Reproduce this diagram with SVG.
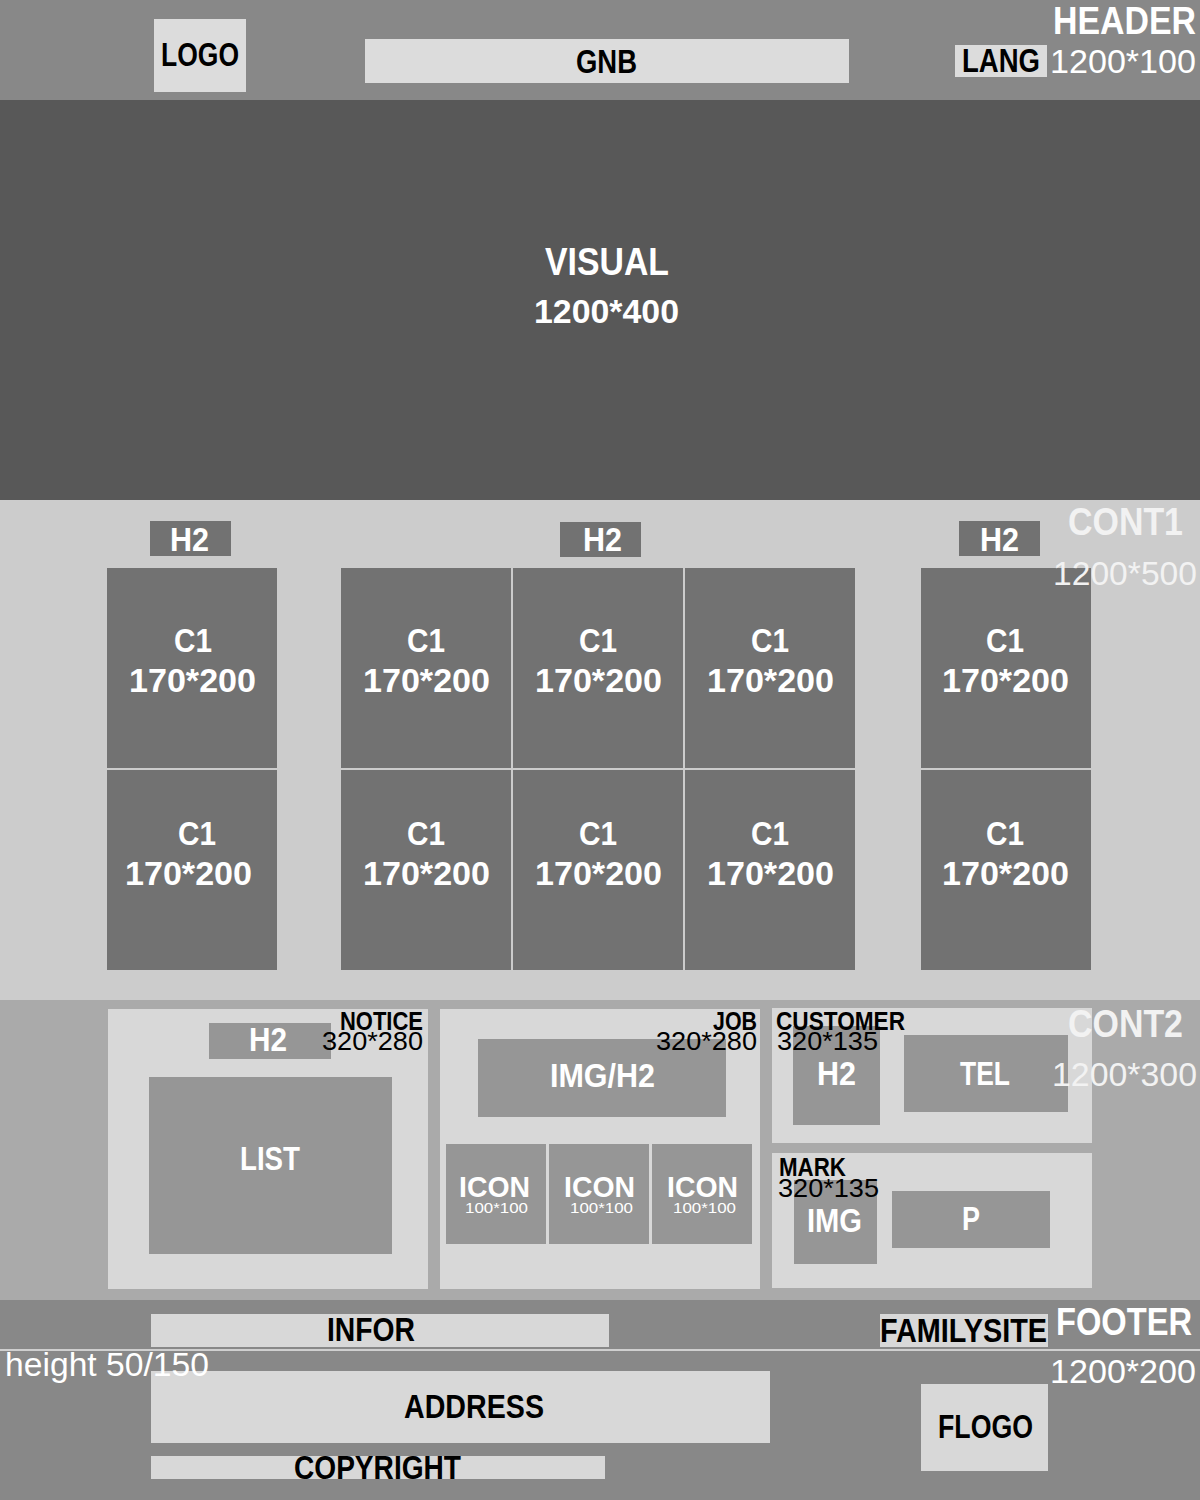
<svg xmlns="http://www.w3.org/2000/svg" width="1200" height="1500" viewBox="0 0 1200 1500">
<style>
text{font-family:"Liberation Sans","DejaVu Sans",sans-serif;font-weight:bold}
.w{fill:#ffffff}
.k{fill:#000000}
.p{fill:#f2f2f2}
.n{font-weight:normal}
.lt{fill:#dcdcdc}
.lb{fill:#d8d8d8}
.d{fill:#727272}
.m{fill:#969696}
.t30{font-size:33px}
.t36{font-size:38px}
.t24{font-size:25px}
.ti{font-size:30px}
.t14{font-size:14px}
</style>
<g id="header">
<rect x="0" y="0" width="1200" height="100" fill="#888888"/>
<text class="w t36" x="1053" y="34" textLength="143" lengthAdjust="spacingAndGlyphs">HEADER</text>
<text class="w t30 n" x="1050" y="73" textLength="146" lengthAdjust="spacingAndGlyphs">1200*100</text>
</g>
<g id="logo"><rect class="lt" x="154" y="19" width="92" height="73"/><text class="k t30" x="161" y="66" textLength="78" lengthAdjust="spacingAndGlyphs">LOGO</text></g>
<g id="gnb"><rect class="lt" x="365" y="39" width="484" height="44"/><text class="k t30" x="576" y="73" textLength="61" lengthAdjust="spacingAndGlyphs">GNB</text></g>
<g id="lang"><rect class="lt" x="955" y="45" width="92" height="32"/><text class="k t30" x="962" y="72" textLength="78" lengthAdjust="spacingAndGlyphs">LANG</text></g>

<g id="visual">
<rect x="0" y="100" width="1200" height="400" fill="#585858"/>
<text class="w t36" x="545" y="275" textLength="124" lengthAdjust="spacingAndGlyphs">VISUAL</text>
<text class="w t30" x="534" y="323" textLength="145" lengthAdjust="spacingAndGlyphs">1200*400</text>
</g>

<g id="cont1">
<rect x="0" y="500" width="1200" height="500" fill="#cccccc"/>
</g>
<g id="c1-h2-left"><rect class="d" x="150" y="521" width="81" height="35"/><text class="w t30" x="170" y="551" textLength="39" lengthAdjust="spacingAndGlyphs">H2</text></g>
<g id="c1-h2-mid"><rect class="d" x="560" y="522" width="81" height="35"/><text class="w t30" x="583" y="551" textLength="39" lengthAdjust="spacingAndGlyphs">H2</text></g>
<g id="c1-h2-right"><rect class="d" x="959" y="521" width="81" height="35"/><text class="w t30" x="980" y="551" textLength="39" lengthAdjust="spacingAndGlyphs">H2</text></g>

<g id="c1-1"><rect class="d" x="107" y="568" width="170" height="200"/><text class="w t30" x="174" y="652" textLength="38" lengthAdjust="spacingAndGlyphs">C1</text><text class="w t30" x="129" y="692" textLength="127" lengthAdjust="spacingAndGlyphs">170*200</text></g>
<g id="c1-2"><rect class="d" x="341" y="568" width="170" height="200"/><text class="w t30" x="407" y="652" textLength="38" lengthAdjust="spacingAndGlyphs">C1</text><text class="w t30" x="363" y="692" textLength="127" lengthAdjust="spacingAndGlyphs">170*200</text></g>
<g id="c1-3"><rect class="d" x="513" y="568" width="170" height="200"/><text class="w t30" x="579" y="652" textLength="38" lengthAdjust="spacingAndGlyphs">C1</text><text class="w t30" x="535" y="692" textLength="127" lengthAdjust="spacingAndGlyphs">170*200</text></g>
<g id="c1-4"><rect class="d" x="685" y="568" width="170" height="200"/><text class="w t30" x="751" y="652" textLength="38" lengthAdjust="spacingAndGlyphs">C1</text><text class="w t30" x="707" y="692" textLength="127" lengthAdjust="spacingAndGlyphs">170*200</text></g>
<g id="c1-5"><rect class="d" x="921" y="568" width="170" height="200"/><text class="w t30" x="986" y="652" textLength="38" lengthAdjust="spacingAndGlyphs">C1</text><text class="w t30" x="942" y="692" textLength="127" lengthAdjust="spacingAndGlyphs">170*200</text></g>
<g id="c1-6"><rect class="d" x="107" y="770" width="170" height="200"/><text class="w t30" x="178" y="845" textLength="38" lengthAdjust="spacingAndGlyphs">C1</text><text class="w t30" x="125" y="885" textLength="127" lengthAdjust="spacingAndGlyphs">170*200</text></g>
<g id="c1-7"><rect class="d" x="341" y="770" width="170" height="200"/><text class="w t30" x="407" y="845" textLength="38" lengthAdjust="spacingAndGlyphs">C1</text><text class="w t30" x="363" y="885" textLength="127" lengthAdjust="spacingAndGlyphs">170*200</text></g>
<g id="c1-8"><rect class="d" x="513" y="770" width="170" height="200"/><text class="w t30" x="579" y="845" textLength="38" lengthAdjust="spacingAndGlyphs">C1</text><text class="w t30" x="535" y="885" textLength="127" lengthAdjust="spacingAndGlyphs">170*200</text></g>
<g id="c1-9"><rect class="d" x="685" y="770" width="170" height="200"/><text class="w t30" x="751" y="845" textLength="38" lengthAdjust="spacingAndGlyphs">C1</text><text class="w t30" x="707" y="885" textLength="127" lengthAdjust="spacingAndGlyphs">170*200</text></g>
<g id="c1-10"><rect class="d" x="921" y="770" width="170" height="200"/><text class="w t30" x="986" y="845" textLength="38" lengthAdjust="spacingAndGlyphs">C1</text><text class="w t30" x="942" y="885" textLength="127" lengthAdjust="spacingAndGlyphs">170*200</text></g>
<g id="cont1-label">
<text class="p t36" x="1068" y="535" textLength="115" lengthAdjust="spacingAndGlyphs">CONT1</text>
<text class="p t30 n" x="1053" y="585" textLength="144" lengthAdjust="spacingAndGlyphs">1200*500</text>
</g>

<g id="cont2">
<rect x="0" y="1000" width="1200" height="300" fill="#aaaaaa"/>
</g>
<g id="notice">
<rect class="lb" x="108" y="1009" width="320" height="280"/>
<rect class="m" x="209" y="1023" width="122" height="36"/><text class="w t30" x="249" y="1051" textLength="38" lengthAdjust="spacingAndGlyphs">H2</text>
<rect class="m" x="149" y="1077" width="243" height="177"/><text class="w t30" x="240" y="1170" textLength="60" lengthAdjust="spacingAndGlyphs">LIST</text>
<text class="k t24" x="340" y="1030" textLength="83" lengthAdjust="spacingAndGlyphs">NOTICE</text>
<text class="k t24 n" x="322" y="1050" textLength="101" lengthAdjust="spacingAndGlyphs">320*280</text>
</g>
<g id="job">
<rect class="lb" x="440" y="1009" width="320" height="280"/>
<rect class="m" x="478" y="1039" width="248" height="78"/><text class="w t30" x="550" y="1087" textLength="105" lengthAdjust="spacingAndGlyphs">IMG/H2</text>
<rect class="m" x="446" y="1144" width="100" height="100"/><text class="w ti" x="459" y="1197" textLength="71" lengthAdjust="spacingAndGlyphs">ICON</text><text class="w t14 n" x="465" y="1213" textLength="63" lengthAdjust="spacingAndGlyphs">100*100</text>
<rect class="m" x="549" y="1144" width="100" height="100"/><text class="w ti" x="564" y="1197" textLength="71" lengthAdjust="spacingAndGlyphs">ICON</text><text class="w t14 n" x="570" y="1213" textLength="63" lengthAdjust="spacingAndGlyphs">100*100</text>
<rect class="m" x="652" y="1144" width="100" height="100"/><text class="w ti" x="667" y="1197" textLength="71" lengthAdjust="spacingAndGlyphs">ICON</text><text class="w t14 n" x="673" y="1213" textLength="63" lengthAdjust="spacingAndGlyphs">100*100</text>
<text class="k t24" x="713" y="1030" textLength="44" lengthAdjust="spacingAndGlyphs">JOB</text>
<text class="k t24 n" x="656" y="1050" textLength="101" lengthAdjust="spacingAndGlyphs">320*280</text>
</g>
<g id="customer">
<rect class="lb" x="772" y="1008" width="320" height="135"/>
<rect class="m" x="793" y="1026" width="87" height="99"/><text class="w t30" x="817" y="1085" textLength="39" lengthAdjust="spacingAndGlyphs">H2</text>
<rect class="m" x="904" y="1035" width="164" height="77"/><text class="w t30" x="960" y="1085" textLength="50" lengthAdjust="spacingAndGlyphs">TEL</text>
<text class="k t24" x="776" y="1030" textLength="129" lengthAdjust="spacingAndGlyphs">CUSTOMER</text>
<text class="k t24 n" x="777" y="1050" textLength="101" lengthAdjust="spacingAndGlyphs">320*135</text>
</g>
<g id="mark">
<rect class="lb" x="772" y="1153" width="320" height="135"/>
<rect class="m" x="794" y="1180" width="83" height="84"/><text class="w t30" x="807" y="1232" textLength="55" lengthAdjust="spacingAndGlyphs">IMG</text>
<rect class="m" x="892" y="1191" width="158" height="57"/><text class="w t30" x="962" y="1230" textLength="18" lengthAdjust="spacingAndGlyphs">P</text>
<text class="k t24" x="779" y="1176" textLength="67" lengthAdjust="spacingAndGlyphs">MARK</text>
<text class="k t24 n" x="778" y="1197" textLength="101" lengthAdjust="spacingAndGlyphs">320*135</text>
</g>
<g id="cont2-label">
<text class="p t36" x="1068" y="1037" textLength="115" lengthAdjust="spacingAndGlyphs">CONT2</text>
<text class="p t30 n" x="1052" y="1086" textLength="145" lengthAdjust="spacingAndGlyphs">1200*300</text>
</g>

<g id="footer">
<rect x="0" y="1300" width="1200" height="200" fill="#888888"/>
<rect x="0" y="1349" width="1200" height="2" fill="#cfcfcf"/>
</g>
<g id="infor"><rect class="lb" x="151" y="1314" width="458" height="33"/><text class="k t30" x="327" y="1341" textLength="88" lengthAdjust="spacingAndGlyphs">INFOR</text></g>
<g id="familysite"><rect class="lb" x="880" y="1314" width="168" height="33"/><text class="k t30" x="880" y="1342" textLength="167" lengthAdjust="spacingAndGlyphs">FAMILYSITE</text></g>
<g id="address"><rect class="lb" x="151" y="1371" width="619" height="72"/><text class="k t30" x="404" y="1418" textLength="140" lengthAdjust="spacingAndGlyphs">ADDRESS</text></g>
<g id="copyright"><rect class="lb" x="151" y="1456" width="454" height="23"/><text class="k t30" x="294" y="1479" textLength="167" lengthAdjust="spacingAndGlyphs">COPYRIGHT</text></g>
<g id="flogo"><rect class="lb" x="921" y="1384" width="127" height="87"/><text class="k t30" x="938" y="1438" textLength="95" lengthAdjust="spacingAndGlyphs">FLOGO</text></g>
<g id="footer-label">
<text class="w t36" x="1056" y="1335" textLength="136" lengthAdjust="spacingAndGlyphs">FOOTER</text>
<text class="w t30 n" x="5" y="1376" textLength="204" lengthAdjust="spacingAndGlyphs">height 50/150</text>
<text class="w t30 n" x="1050" y="1383" textLength="146" lengthAdjust="spacingAndGlyphs">1200*200</text>
</g>
<g id="connectors"/>
</svg>
